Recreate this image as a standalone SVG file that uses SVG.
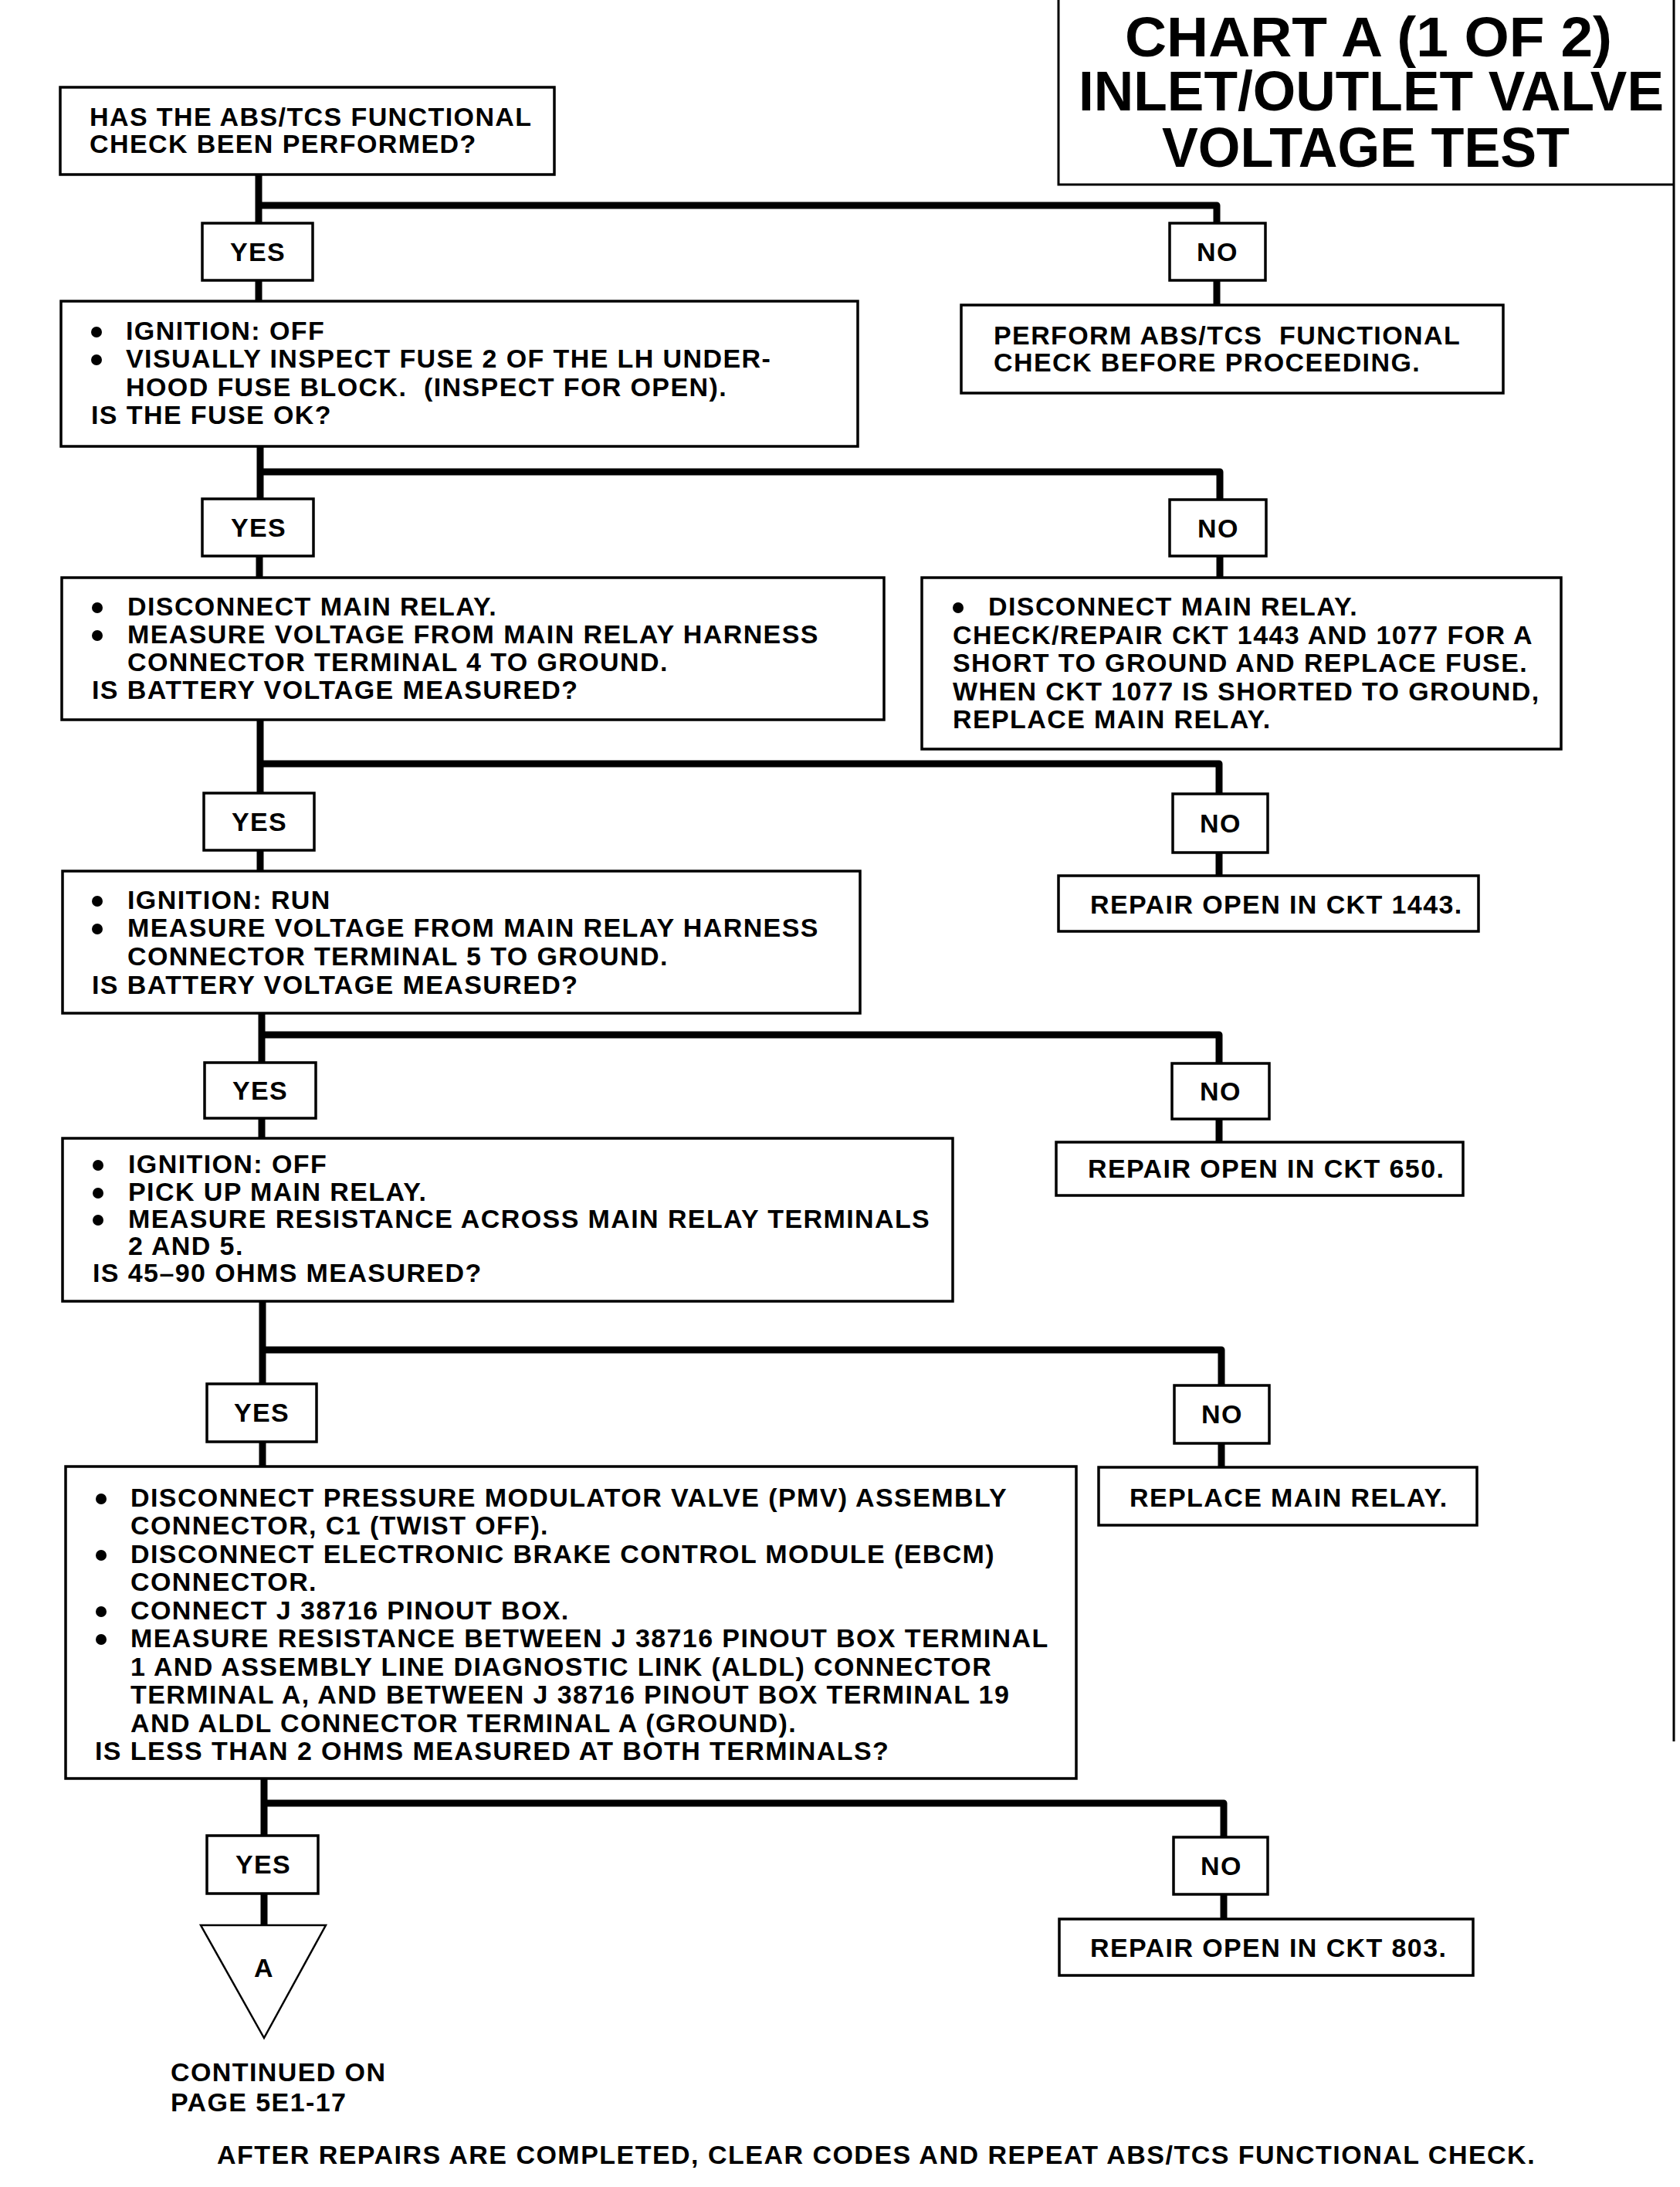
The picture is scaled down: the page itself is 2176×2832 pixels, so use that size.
<svg xmlns="http://www.w3.org/2000/svg" width="2176" height="2832" viewBox="0 0 2176 2832">
<style>
.bg{fill:#fff}
.box{fill:#fff;stroke:#000;stroke-width:3.5}
.frame{fill:none;stroke:#000;stroke-width:3}
.conn{fill:none;stroke:#000;stroke-width:9;stroke-linejoin:round;stroke-linecap:butt}
.t{font-family:"Liberation Sans",Arial,Helvetica,sans-serif;font-size:34px;font-weight:bold;letter-spacing:1.4px;fill:#000;white-space:pre}
.c{text-anchor:middle}
.ttl{font-family:"Liberation Sans",Arial,Helvetica,sans-serif;font-size:72px;font-weight:bold;fill:#000}
.dot{fill:#000}
.tri{fill:#fff;stroke:#000;stroke-width:2.5}
</style>
<rect class="bg" x="0" y="0" width="2176" height="2832"/>

<g id="title">
<path class="frame" d="M1371 0 V239 H2168"/>
<path class="frame" d="M2168 0 V2255"/>
<text class="ttl" x="1457" y="73" textLength="631" lengthAdjust="spacingAndGlyphs">CHART A (1 OF 2)</text>
<text class="ttl" x="1397" y="143" textLength="758" lengthAdjust="spacingAndGlyphs">INLET/OUTLET VALVE</text>
<text class="ttl" x="1505" y="216" textLength="528" lengthAdjust="spacingAndGlyphs">VOLTAGE TEST</text>
</g>

<g id="connectors">
<path class="conn" d="M335 226 V289"/>
<path class="conn" d="M335 266 H1576 V289"/>
<path class="conn" d="M335 363 V390"/>
<path class="conn" d="M1576 363 V395"/>

<path class="conn" d="M337 578 V646"/>
<path class="conn" d="M337 611 H1580 V647"/>
<path class="conn" d="M336 720 V748"/>
<path class="conn" d="M1580 720 V748"/>

<path class="conn" d="M337 932 V1027"/>
<path class="conn" d="M337 989 H1579 V1028"/>
<path class="conn" d="M337 1101 V1128"/>
<path class="conn" d="M1579 1104 V1134"/>

<path class="conn" d="M339 1312 V1376"/>
<path class="conn" d="M339 1340 H1579 V1377"/>
<path class="conn" d="M339 1448 V1474"/>
<path class="conn" d="M1579 1449 V1479"/>

<path class="conn" d="M340 1685 V1792"/>
<path class="conn" d="M340 1748 H1582 V1794"/>
<path class="conn" d="M340 1867 V1899"/>
<path class="conn" d="M1582 1869 V1900"/>

<path class="conn" d="M342 2303 V2377"/>
<path class="conn" d="M342 2335 H1585 V2379"/>
<path class="conn" d="M342 2452 V2493"/>
<path class="conn" d="M1585 2453 V2485"/>
</g>

<g id="q1">
<rect class="box" x="78" y="113" width="640" height="113"/>
<text class="t" x="116" y="163">HAS THE ABS/TCS FUNCTIONAL</text>
<text class="t" x="116" y="198">CHECK BEEN PERFORMED?</text>
</g>

<g id="yes1"><rect class="box" x="262" y="289" width="143" height="74"/><text class="t c" x="334" y="338">YES</text></g>
<g id="no1"><rect class="box" x="1515" y="289" width="124" height="74"/><text class="t c" x="1577" y="338">NO</text></g>

<g id="perform">
<rect class="box" x="1245" y="395" width="702" height="114"/>
<text class="t" x="1287" y="446" xml:space="preserve">PERFORM ABS/TCS  FUNCTIONAL</text>
<text class="t" x="1287" y="481">CHECK BEFORE PROCEEDING.</text>
</g>

<g id="q2">
<rect class="box" x="79" y="390" width="1032" height="188"/>
<circle class="dot" cx="125" cy="430" r="7"/>
<text class="t" x="163" y="440">IGNITION: OFF</text>
<circle class="dot" cx="125" cy="466" r="7"/>
<text class="t" x="163" y="476">VISUALLY INSPECT FUSE 2 OF THE LH UNDER-</text>
<text class="t" x="163" y="513" xml:space="preserve">HOOD FUSE BLOCK.  (INSPECT FOR OPEN).</text>
<text class="t" x="118" y="549">IS THE FUSE OK?</text>
</g>

<g id="yes2"><rect class="box" x="262" y="646" width="144" height="74"/><text class="t c" x="335" y="695">YES</text></g>
<g id="no2"><rect class="box" x="1515" y="647" width="125" height="73"/><text class="t c" x="1578" y="696">NO</text></g>

<g id="q3">
<rect class="box" x="80" y="748" width="1065" height="184"/>
<circle class="dot" cx="126" cy="787" r="7"/>
<text class="t" x="165" y="797">DISCONNECT MAIN RELAY.</text>
<circle class="dot" cx="126" cy="823" r="7"/>
<text class="t" x="165" y="833">MEASURE VOLTAGE FROM MAIN RELAY HARNESS</text>
<text class="t" x="165" y="869">CONNECTOR TERMINAL 4 TO GROUND.</text>
<text class="t" x="119" y="905">IS BATTERY VOLTAGE MEASURED?</text>
</g>

<g id="fuse-short">
<rect class="box" x="1194" y="748" width="828" height="222"/>
<circle class="dot" cx="1241" cy="787" r="7"/>
<text class="t" x="1280" y="797">DISCONNECT MAIN RELAY.</text>
<text class="t" x="1234" y="834">CHECK/REPAIR CKT 1443 AND 1077 FOR A</text>
<text class="t" x="1234" y="870">SHORT TO GROUND AND REPLACE FUSE.</text>
<text class="t" x="1234" y="907">WHEN CKT 1077 IS SHORTED TO GROUND,</text>
<text class="t" x="1234" y="943">REPLACE MAIN RELAY.</text>
</g>

<g id="yes3"><rect class="box" x="264" y="1027" width="143" height="74"/><text class="t c" x="336" y="1076">YES</text></g>
<g id="no3"><rect class="box" x="1519" y="1028" width="123" height="76"/><text class="t c" x="1581" y="1078">NO</text></g>

<g id="q4">
<rect class="box" x="81" y="1128" width="1033" height="184"/>
<circle class="dot" cx="126" cy="1167" r="7"/>
<text class="t" x="165" y="1177">IGNITION: RUN</text>
<circle class="dot" cx="126" cy="1203" r="7"/>
<text class="t" x="165" y="1213">MEASURE VOLTAGE FROM MAIN RELAY HARNESS</text>
<text class="t" x="165" y="1250">CONNECTOR TERMINAL 5 TO GROUND.</text>
<text class="t" x="119" y="1287">IS BATTERY VOLTAGE MEASURED?</text>
</g>

<g id="ckt1443">
<rect class="box" x="1371" y="1134" width="544" height="72"/>
<text class="t" x="1412" y="1183">REPAIR OPEN IN CKT 1443.</text>
</g>

<g id="yes4"><rect class="box" x="265" y="1376" width="144" height="72"/><text class="t c" x="337" y="1424">YES</text></g>
<g id="no4"><rect class="box" x="1518" y="1377" width="126" height="72"/><text class="t c" x="1581" y="1425">NO</text></g>

<g id="q5">
<rect class="box" x="81" y="1474" width="1153" height="211"/>
<circle class="dot" cx="127" cy="1509" r="7"/>
<text class="t" x="166" y="1519">IGNITION: OFF</text>
<circle class="dot" cx="127" cy="1545" r="7"/>
<text class="t" x="166" y="1555">PICK UP MAIN RELAY.</text>
<circle class="dot" cx="127" cy="1580" r="7"/>
<text class="t" x="166" y="1590">MEASURE RESISTANCE ACROSS MAIN RELAY TERMINALS</text>
<text class="t" x="166" y="1625">2 AND 5.</text>
<text class="t" x="120" y="1660">IS 45–90 OHMS MEASURED?</text>
</g>

<g id="ckt650">
<rect class="box" x="1368" y="1479" width="527" height="69"/>
<text class="t" x="1409" y="1525">REPAIR OPEN IN CKT 650.</text>
</g>

<g id="yes5"><rect class="box" x="268" y="1792" width="142" height="75"/><text class="t c" x="339" y="1841">YES</text></g>
<g id="no5"><rect class="box" x="1521" y="1794" width="123" height="75"/><text class="t c" x="1583" y="1843">NO</text></g>

<g id="q6">
<rect class="box" x="85" y="1899" width="1309" height="404"/>
<circle class="dot" cx="131" cy="1941" r="7"/>
<text class="t" x="169" y="1951">DISCONNECT PRESSURE MODULATOR VALVE (PMV) ASSEMBLY</text>
<text class="t" x="169" y="1987">CONNECTOR, C1 (TWIST OFF).</text>
<circle class="dot" cx="131" cy="2014" r="7"/>
<text class="t" x="169" y="2024">DISCONNECT ELECTRONIC BRAKE CONTROL MODULE (EBCM)</text>
<text class="t" x="169" y="2060">CONNECTOR.</text>
<circle class="dot" cx="131" cy="2087" r="7"/>
<text class="t" x="169" y="2097">CONNECT J 38716 PINOUT BOX.</text>
<circle class="dot" cx="131" cy="2123" r="7"/>
<text class="t" x="169" y="2133">MEASURE RESISTANCE BETWEEN J 38716 PINOUT BOX TERMINAL</text>
<text class="t" x="169" y="2170">1 AND ASSEMBLY LINE DIAGNOSTIC LINK (ALDL) CONNECTOR</text>
<text class="t" x="169" y="2206">TERMINAL A, AND BETWEEN J 38716 PINOUT BOX TERMINAL 19</text>
<text class="t" x="169" y="2243">AND ALDL CONNECTOR TERMINAL A (GROUND).</text>
<text class="t" x="123" y="2279">IS LESS THAN 2 OHMS MEASURED AT BOTH TERMINALS?</text>
</g>

<g id="replace-relay">
<rect class="box" x="1423" y="1900" width="490" height="75"/>
<text class="t" x="1463" y="1951">REPLACE MAIN RELAY.</text>
</g>

<g id="yes6"><rect class="box" x="268" y="2377" width="144" height="75"/><text class="t c" x="341" y="2426">YES</text></g>
<g id="no6"><rect class="box" x="1520" y="2379" width="122" height="74"/><text class="t c" x="1582" y="2428">NO</text></g>

<g id="connector-a">
<polygon class="tri" points="260,2493 422,2493 342,2639"/>
<text class="t c" x="342" y="2560">A</text>
</g>

<g id="continued">
<text class="t" x="221" y="2695">CONTINUED ON</text>
<text class="t" x="221" y="2734">PAGE 5E1-17</text>
</g>

<g id="ckt803">
<rect class="box" x="1372" y="2485" width="536" height="73"/>
<text class="t" x="1412" y="2534">REPAIR OPEN IN CKT 803.</text>
</g>

<g id="footer">
<text class="t" x="281" y="2802" textLength="1708" lengthAdjust="spacing">AFTER REPAIRS ARE COMPLETED, CLEAR CODES AND REPEAT ABS/TCS FUNCTIONAL CHECK.</text>
</g>
</svg>
